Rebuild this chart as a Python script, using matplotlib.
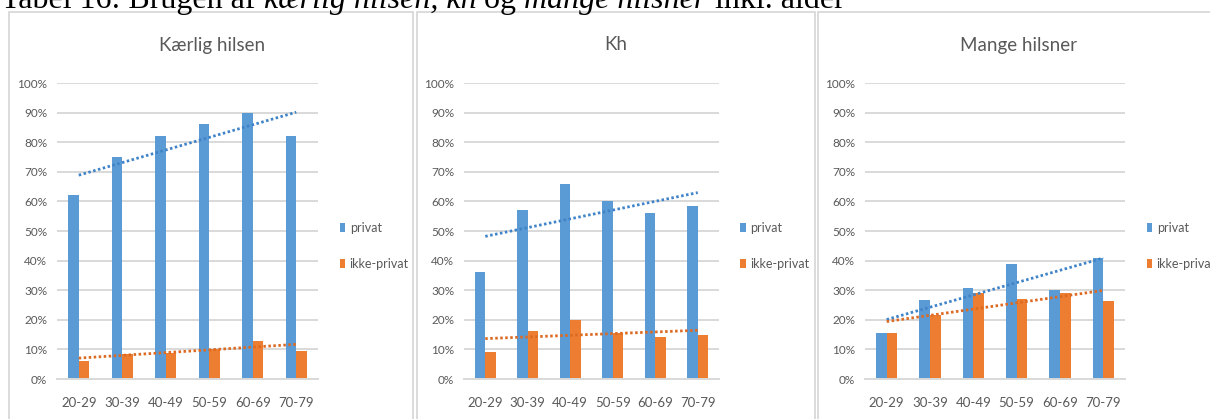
import numpy as np
import matplotlib
matplotlib.use("Agg")
import matplotlib.pyplot as plt
from matplotlib.patches import Rectangle, Patch
from matplotlib.text import Annotation

# Aldersgrupper og andele (brøkdel) for hver hilsen
age_groups = ["20-29", "30-39", "40-49", "50-59", "60-69", "70-79"]

kaerlig_privat = [0.62, 0.75, 0.82, 0.86, 0.90, 0.82]
kaerlig_ikke_privat = [0.062, 0.083, 0.089, 0.103, 0.13, 0.096]

kh_privat = [0.36, 0.57, 0.66, 0.60, 0.56, 0.585]
kh_ikke_privat = [0.09, 0.163, 0.20, 0.157, 0.143, 0.15]

mange_privat = [0.154, 0.268, 0.308, 0.389, 0.301, 0.409]
mange_ikke_privat = [0.154, 0.217, 0.289, 0.269, 0.289, 0.262]

titles = ["Kærlig hilsen", "Kh", "Mange hilsner"]
series_names = ["privat", "ikke-privat"]

BLUE = "#5B9BD5"
ORANGE = "#ED7D31"
BLUE_TREND = "#3F83C8"
ORANGE_TREND = "#DD6A22"
GRID = "#D9D9D9"
TEXT = "#595959"

W, H = 1210, 419
fig = plt.figure(figsize=(W / 100, H / 100), dpi=100)
fig.patch.set_facecolor("white")


def px_box(left, right, top, bottom):
    # pixelkoordinater -> figurbrøk [l, b, w, h]
    return [left / W, 1 - bottom / H, (right - left) / W, (bottom - top) / H]


# Rammer om de tre diagrammer
for x0, x1 in [(9, 413), (417, 815), (818, 1260)]:
    fig.patches.append(Rectangle((x0 / W, -0.2), (x1 - x0) / W, 1.2 - 12 / H,
                                 transform=fig.transFigure, fill=False,
                                 edgecolor=GRID, linewidth=1.3, zorder=0))

# Tabeltekst (delvist afskåret i toppen), kursiv for hilsnerne
cap_y = 1 - 8 / H
parts = [("Tabel 16: Brugen af ", "normal"), ("kærlig hilsen, kh", "italic"),
         (" og ", "normal"), ("mange hilsner", "italic"), (" inkl. alder", "normal")]
prev = fig.text(1 / W, cap_y, parts[0][0], fontsize=23, family="Liberation Serif",
                va="baseline", ha="left", color="black")
for txt, style in parts[1:]:
    ann = Annotation(txt, xy=(1, 0), xycoords=prev, va="bottom", ha="left",
                     fontsize=23, family="Liberation Serif", style=style, color="black")
    fig.add_artist(ann)
    prev = ann

panels = [
    (kaerlig_privat, kaerlig_ikke_privat, (57, 318), 212),
    (kh_privat, kh_ikke_privat, (464, 719), 616),
    (mange_privat, mange_ikke_privat, (865, 1125), 1018),
]

x = np.arange(len(age_groups))
bw = 0.245

for i, (privat, ikke, (left, right), title_x) in enumerate(panels):
    ax = fig.add_axes(px_box(left, right, 83, 379))
    ax.bar(x - bw / 2, privat, bw, color=BLUE, zorder=2)
    ax.bar(x + bw / 2, ikke, bw, color=ORANGE, zorder=2)

    # lineære tendenslinjer
    for vals, col in [(privat, BLUE_TREND), (ikke, ORANGE_TREND)]:
        k, m = np.polyfit(x, vals, 1)
        ax.plot(x, k * x + m, color=col, linewidth=2.0,
                linestyle=(0, (0.9, 0.9)), zorder=3)

    ax.set_xlim(-0.5, len(age_groups) - 0.5)
    ax.set_ylim(0, 1)
    ticks = np.arange(0, 1.01, 0.1)
    ax.set_yticks(ticks)
    ax.set_yticklabels([f"{int(round(v * 100))}%" for v in ticks])
    ax.set_xticks(x)
    ax.set_xticklabels(age_groups)
    ax.tick_params(axis="y", length=0, pad=7, labelsize=8.5, labelcolor=TEXT)
    ax.tick_params(axis="x", length=0, pad=13, labelsize=9.5, labelcolor=TEXT)
    for lbl in ax.get_xticklabels() + ax.get_yticklabels():
        lbl.set_family("Lato")
    ax.grid(True, axis="y", color=GRID, linewidth=1.4, zorder=1)
    for s in ["top", "right", "left"]:
        ax.spines[s].set_visible(False)
    ax.spines["bottom"].set_color(GRID)
    ax.spines["bottom"].set_linewidth(1.4)
    ax.set_facecolor("none")

    fig.text(title_x / W, 1 - 45 / H, titles[i], ha="center", va="center",
             fontsize=13.5, family="Lato", color=TEXT)

    handles = [Patch(facecolor=BLUE, label=series_names[0]),
               Patch(facecolor=ORANGE, label=series_names[1])]
    ax.legend(handles=handles, loc="center left", bbox_to_anchor=(1.04, 0.45),
              frameon=False, handlelength=0.45, handleheight=0.75,
              handletextpad=0.35, labelspacing=1.9, labelcolor=TEXT,
              prop={"family": "Lato", "size": 9})

fig.savefig("out.png", dpi=100, facecolor="white")
